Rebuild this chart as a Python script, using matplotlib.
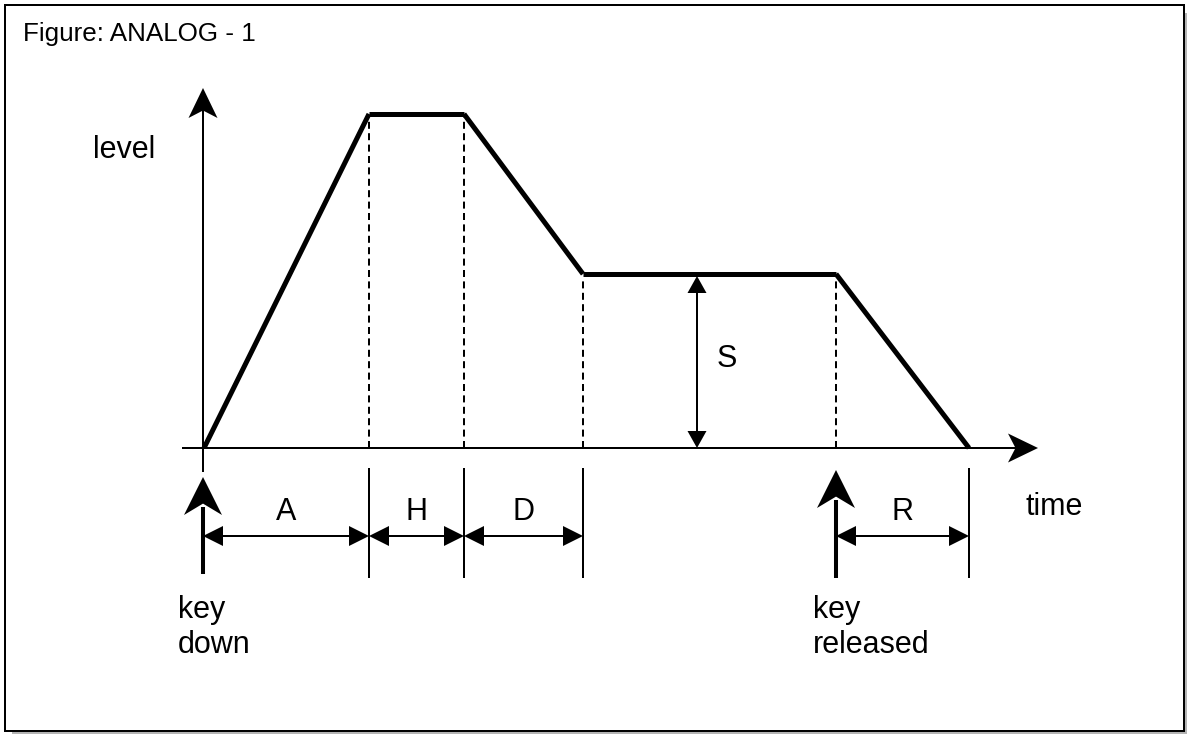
import matplotlib
matplotlib.use("Agg")
import matplotlib.pyplot as plt
from matplotlib.patches import Polygon, Rectangle

plt.rcParams['font.family'] = ['Liberation Sans', 'DejaVu Sans']

# ==================== data (diagram units, origin at the axes corner) ====================
env_time = [1, 166, 261, 380, 633, 766]      # start, A end, H end, D end, key released, R end
env_level = [0, 334, 334, 174, 174, 0]
phase_names = ['A', 'H', 'D', 'R']
phase_spans = [(0, 166), (166, 261), (261, 380), (633, 766)]
sustain_level = 174
sustain_x = 494
title_text = "Figure: ANALOG - 1"

fig = plt.figure(figsize=(11.88, 7.34), dpi=100)
ax = fig.add_axes([0, 0, 1, 1])
ax.set_xlim(-203, 985)
ax.set_ylim(-286, 448)
ax.axis('off')

THIN = 1.44
THICK = 3.6


def head(tip, d, length, width, notch=0.0):
    """filled arrow head, d = unit direction of the arrow"""
    tx, ty = tip
    dx, dy = d
    nx, ny = -dy, dx
    bx, by = tx - dx * length, ty - dy * length
    mx, my = tx - dx * length * (1 - notch), ty - dy * length * (1 - notch)
    pts = [(tx, ty),
           (bx + nx * width / 2, by + ny * width / 2),
           (mx, my),
           (bx - nx * width / 2, by - ny * width / 2)]
    ax.add_patch(Polygon(pts, closed=True, fc='black', ec='none', zorder=5))


# ==================== frame with shadow ====================
ax.add_patch(Rectangle((-191, -286), 1175, 721, fc='#b4b4b4', ec='none', zorder=0))
ax.add_patch(Rectangle((-198, -283), 1179, 726, fc='white', ec='black', lw=THIN, zorder=1))
ax.text(-180, 407, title_text, fontsize=18.7, ha='left', va='baseline')

# ==================== axes ====================
ax.plot([0, 0], [-24, 345], color='black', lw=THIN, solid_capstyle='butt')
head((0, 360), (0, 1), 30, 29, notch=0.25)
ax.plot([-21, 820], [0, 0], color='black', lw=THIN, solid_capstyle='butt')
head((835, 0), (1, 0), 30, 29, notch=0.25)
ax.text(-110, 290, "level", fontsize=22, ha='left', va='baseline')
ax.text(823, -67, "time", fontsize=22, ha='left', va='baseline')

# ==================== envelope (each segment drawn on its own, like the original) ====================
for i in range(len(env_time) - 1):
    ax.plot(env_time[i:i + 2], env_level[i:i + 2], color='black', lw=THICK,
            solid_capstyle='butt', zorder=4)
for t, lv in zip(env_time[1:5], env_level[1:5]):
    ax.plot([t, t], [0, lv - 3], color='black', lw=THIN, linestyle=(0, (3.5, 2.2)), zorder=3)

# sustain level arrow
ax.plot([sustain_x, sustain_x], [10, sustain_level - 10], color='black', lw=THIN)
head((sustain_x, sustain_level - 2), (0, 1), 17, 19)
head((sustain_x, 0), (0, -1), 17, 19)
ax.text(sustain_x + 30, 81, "S", fontsize=22, ha='center', va='baseline')

# ==================== phase durations ====================
dim_y = -88
for t in [env_time[1], env_time[2], env_time[3], env_time[5]]:
    ax.plot([t, t], [-20, -130], color='black', lw=THIN, solid_capstyle='butt')
for name, (t0, t1) in zip(phase_names, phase_spans):
    ax.plot([t0 + 5, t1 - 5], [dim_y, dim_y], color='black', lw=THIN)
    head((t0, dim_y), (-1, 0), 20, 20)
    head((t1, dim_y), (1, 0), 20, 20)
    ax.text((t0 + t1) / 2, -72, name, fontsize=22, ha='center', va='baseline')

# ==================== key events ====================
for x, tip, bottom, lines, tx in [(0, -29, -126, ["key", "down"], -25),
                                  (env_time[4], -22, -130, ["key", "released"], 610)]:
    ax.plot([x, x], [bottom, tip - 30], color='black', lw=2.9, solid_capstyle='butt')
    head((x, tip), (0, 1), 38, 38, notch=0.3)
    for i, s in enumerate(lines):
        ax.text(tx, -170 - 35 * i, s, fontsize=22, ha='left', va='baseline')

fig.savefig("out.png", dpi=100)
